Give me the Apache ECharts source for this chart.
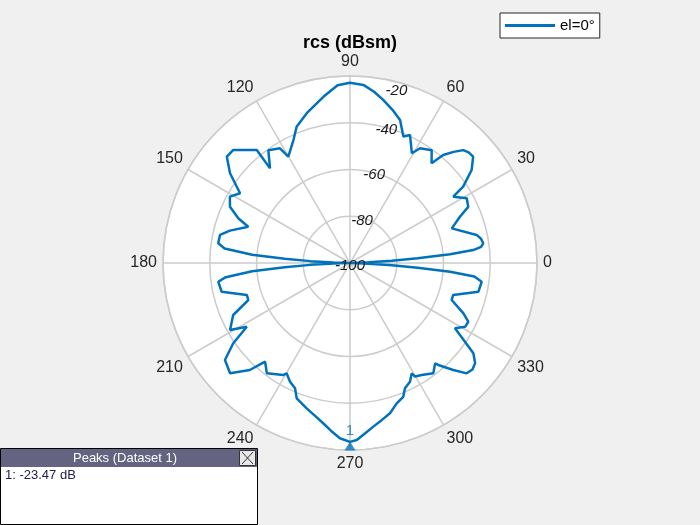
<!DOCTYPE html>
<html>
<head>
<meta charset="utf-8">
<script src="https://cdn.jsdelivr.net/npm/echarts@6/dist/echarts.min.js"></script>
<style>
html,body{margin:0;padding:0;background:#f0f0f0;}
#chart{width:700px;height:525px;}
</style>
</head>
<body>
<div id="chart"></div>
<script>
// ---- data ----
var angleDeg = [0,1,2,3,4,5,6,7,8.4,10.5,12.5,18.8,22.8,25.4,29,32.7,34,37.4,40.8,43,44.9,47,49.2,50.7,54.1,58.6,60.6,64.9,67.1,70.7,74.5,78.5,82,85.7,90,
  94,99.1,106.1,111.4,114.7,120.1,121.4,125.9,130.2,129.5,135.9,139.2,143.2,147.6,147.9,151.1,154.9,158.2,160.4,164.9,167.8,171.5,173.4,175.2,176.3,177.3,178.2,179,180,
  181,181.8,182.7,183.7,184.8,186.5,188.1,192.6,197.2,200,204,209.2,211.7,214.5,217.8,222.6,226.9,229.3,233,239.2,240.1,243.2,246.3,248.5,253.4,257,260.5,263.5,266.7,270,
  272.2,275,278.1,281.5,284.9,288.4,291.7,293.7,296.8,299.2,299.8,302.6,307.1,310.3,310.9,314,316.6,319,321.3,323.8,325.6,328.1,331,333.6,336.1,340,342.8,347.4,351.9,353.8,355,356,357,358,359,360];
var rcsDb = [-100,-99,-92,-82,-71,-57,-47,-43.5,-42.4,-43,-44.5,-54,-49,-44,-42.9,-47.5,-41.6,-34.5,-30.4,-30.6,-31.6,-35,-39,-44.9,-40.4,-42.5,-46.1,-39.5,-41.3,-35.2,-32,-28.8,-26,-23.6,-22.9,
  -23.8,-28,-33.3,-37.4,-42.1,-47.4,-42.5,-40.4,-47,-37.3,-30.5,-30.4,-35.9,-44.3,-45.3,-41.3,-43.3,-48.5,-53.8,-46.8,-43.1,-43,-46,-58,-72,-83,-93,-99,-100,
  -99,-93,-83,-72,-58,-46.5,-43.1,-43.7,-53.8,-53.7,-45.3,-41.2,-48.1,-39.4,-32.3,-30.3,-37.3,-44.3,-40.9,-44.2,-45.6,-43.1,-41.5,-37.8,-35.1,-33,-30.5,-27.8,-24.9,-23.47,
  -24.2,-26.8,-29.3,-31.5,-33.5,-36.7,-38.4,-41.5,-43.1,-45.9,-44,-43.1,-40.9,-43.7,-42.3,-36.4,-31.3,-30.6,-31.4,-34.6,-40.4,-47.1,-43.7,-43.5,-47,-53.7,-53.8,-43.7,-43.1,-46.5,-57,-71,-82,-92,-99,-100];
var angleTicks = [0,30,60,90,120,150,180,210,240,270,300,330];
var radialTicks = [-100,-80,-60,-40,-20];
var peakAngle = [270];
var peakDb = [-23.47];
var seriesName = 'el=0°';
var titleText = 'rcs (dBsm)';
var peaksTitle = 'Peaks (Dataset 1)';
var peaksRow = '1: -23.47 dB';

// ---- chart ----
var chart = echarts.init(document.getElementById('chart'), null, {renderer:'canvas'});
var CX = 350, CY = 263, R = 187;
var gridColor = '#cccccc';
var font = 'Liberation Sans, Arial, Helvetica, sans-serif';

var option = {
  backgroundColor: '#f0f0f0',
  animation: false,
  title: {
    text: titleText, left: 'center', top: 29,
    textStyle: {fontSize: 18, fontWeight: 'bold', color: '#000', fontFamily: font}
  },
  legend: {
    data: [{name: seriesName, icon: 'rect'}], left: 500, top: 13,
    backgroundColor: '#ffffff', borderColor: '#262626', borderWidth: 1, borderRadius: 0,
    padding: [5, 5, 5, 5], itemWidth: 50, itemHeight: 3,
    textStyle: {fontSize: 15, color: '#000', fontFamily: font}
  },
  polar: [
    {center: [CX, CY], radius: R},
    {center: [CX, CY], radius: R}
  ],
  angleAxis: [
    {
      polarIndex: 0, type: 'value', min: 0, max: 360, interval: 30,
      startAngle: 0, clockwise: false, z: 2,
      axisLine: {lineStyle: {color: gridColor, width: 1.5}},
      axisTick: {show: false},
      axisLabel: {
        margin: 6, fontSize: 16, color: '#262626', fontFamily: font,
        formatter: function (v) { return angleTicks.indexOf(v) >= 0 ? String(v) : ''; }
      },
      splitLine: {show: true, lineStyle: {color: gridColor, width: 1.5}}
    },
    {
      polarIndex: 1, type: 'value', min: 0, max: 360, startAngle: 75, clockwise: false, show: false
    }
  ],
  radiusAxis: [
    {
      polarIndex: 0, type: 'value', min: radialTicks[0], max: radialTicks[radialTicks.length - 1], interval: 20, z: 2,
      axisLine: {show: false}, axisTick: {show: false}, axisLabel: {show: false},
      splitLine: {show: true, lineStyle: {color: gridColor, width: 1.5}}
    },
    {
      polarIndex: 1, type: 'value', min: radialTicks[0], max: radialTicks[radialTicks.length - 1], interval: 20, z: 10,
      axisLine: {show: false}, axisTick: {show: false}, splitLine: {show: false},
      axisLabel: {
        margin: 0, align: 'center', verticalAlign: 'middle', showMinLabel: true, showMaxLabel: true,
        fontSize: 15, fontStyle: 'italic', color: '#1a1a1a', fontFamily: font,
        formatter: function (v) { return v === -20 ? '{t|' + v + '}' : '{n|' + v + '}'; },
        rich: {
          n: {fontSize: 15, fontStyle: 'italic', color: '#1a1a1a', fontFamily: font, padding: [5, 0, 0, 0]},
          t: {fontSize: 15, fontStyle: 'italic', color: '#1a1a1a', fontFamily: font, padding: [17, 4, 0, 0]}
        }
      }
    }
  ],
  series: [
    {
      name: seriesName, type: 'line', coordinateSystem: 'polar', polarIndex: 0,
      symbol: 'none', showSymbol: false, smooth: false,
      lineStyle: {color: '#0072BD', width: 2.5}, itemStyle: {color: '#0072BD'},
      data: angleDeg.map(function (a, i) { return [rcsDb[i], a]; }),
      z: 3
    },
    {
      name: 'peak', type: 'scatter', coordinateSystem: 'polar', polarIndex: 0,
      symbol: 'triangle', symbolSize: [11, 9], symbolOffset: [0, 4],
      itemStyle: {color: '#0072BD'},
      label: {show: true, position: 'top', distance: 3, formatter: '1', color: '#0072BD', fontSize: 15, fontFamily: font},
      data: peakAngle.map(function (a, i) { return [peakDb[i], a]; }),
      z: 4
    }
  ],
  graphic: [
    {type: 'circle', shape: {cx: CX, cy: CY, r: R}, style: {fill: '#ffffff'}, z: -10, silent: true},
    {type: 'rect', left: 0, top: 448, shape: {width: 257, height: 76}, style: {fill: '#ffffff', stroke: '#000000', lineWidth: 1}, z: 10},
    {type: 'rect', left: 1, top: 449, shape: {width: 256, height: 18}, style: {fill: '#646482'}, z: 11},
    {type: 'text', x: 125, y: 458, style: {text: peaksTitle, fill: '#ffffff', font: '13px Liberation Sans, Arial, sans-serif', textAlign: 'center', textVerticalAlign: 'middle'}, z: 12},
    {type: 'rect', left: 239, top: 450, shape: {width: 16, height: 15}, style: {fill: '#e8e8e8', stroke: '#333333', lineWidth: 1}, z: 12},
    {type: 'line', shape: {x1: 242, y1: 452, x2: 253, y2: 464}, style: {stroke: '#333333', lineWidth: 1}, z: 13},
    {type: 'line', shape: {x1: 253, y1: 452, x2: 242, y2: 464}, style: {stroke: '#333333', lineWidth: 1}, z: 13},
    {type: 'text', x: 5, y: 475, style: {text: peaksRow, fill: '#202050', font: '13px Liberation Sans, Arial, sans-serif', textVerticalAlign: 'middle'}, z: 12}
  ]
};
chart.setOption(option);
</script>
</body>
</html>
